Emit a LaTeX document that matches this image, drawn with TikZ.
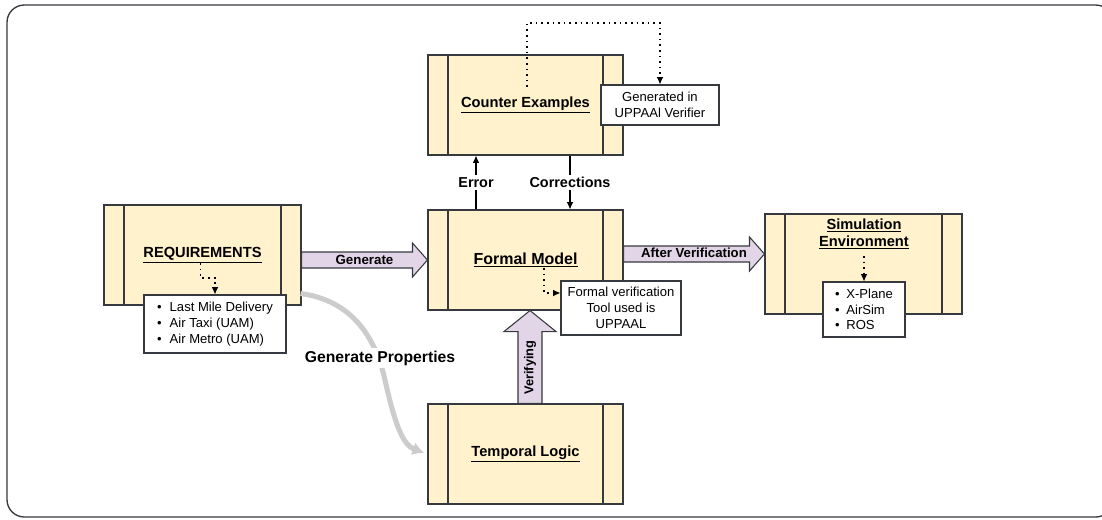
\documentclass[tikz,border=0pt]{standalone}
\usepackage{fontspec}
\setmainfont{Liberation Sans}
\usetikzlibrary{calc,arrows.meta}

\definecolor{boxfill}{HTML}{FFF2CC}
\definecolor{boxline}{HTML}{36393D}
\definecolor{arrowfill}{HTML}{E1D5E7}
\definecolor{propgray}{HTML}{CCCCCC}

\tikzset{
  procbox/.style={draw=boxline, fill=boxfill, line width=0.8pt,
    minimum width=146.25pt, minimum height=75pt, inner sep=0pt,
    font=\fontsize{11}{13}\selectfont\bfseries,
    path picture={
      \draw[boxline, line width=0.8pt]
        ([xshift=15pt]path picture bounding box.north west) -- ([xshift=15pt]path picture bounding box.south west)
        ([xshift=-15pt]path picture bounding box.north east) -- ([xshift=-15pt]path picture bounding box.south east);
    }},
  notebox/.style={draw=boxline, fill=white, line width=0.8pt, inner sep=0pt,
    font=\fontsize{9.8}{11.8}\selectfont},
  dotarrow/.style={line width=0.8pt, dash pattern=on 1.2pt off 3pt,
    -{Latex[length=5.5pt,width=5pt]}},
  thinarrow/.style={line width=0.8pt, -{Latex[length=5.5pt,width=5pt]}},
  fatarrow/.style={draw=boxline, fill=arrowfill, line width=0.8pt, line join=miter},
  edgelabel/.style={fill=white, inner sep=1.5pt, font=\fontsize{10.8}{13}\selectfont\bfseries}
}

% horizontal block arrow: start, end
\newcommand{\blockarrowh}[2]{%
  \filldraw[fatarrow] ($(#1)+(0,-8)$) -- ($(#2)+(-15,-8)$) -- ($(#2)+(-15,-17)$) -- (#2)
    -- ($(#2)+(-15,17)$) -- ($(#2)+(-15,8)$) -- ($(#1)+(0,8)$) -- cycle;}
% vertical block arrow (upwards): start, end
\newcommand{\blockarrowv}[2]{%
  \filldraw[fatarrow] ($(#1)+(-12,0)$) -- ($(#2)+(-12,21)$) -- ($(#2)+(-26,21)$) -- (#2)
    -- ($(#2)+(26,21)$) -- ($(#2)+(12,21)$) -- ($(#1)+(12,0)$) -- cycle;}

\begin{document}
\begin{tikzpicture}[x=0.75pt,y=0.75pt,yscale=-1,xscale=1]
\useasboundingbox (0,0) rectangle (1102,519);

% outer frame
\draw[draw=boxline, line width=1pt, rounded corners=13pt] (7,5) rectangle (1113,517);

% process boxes
\node[procbox] (ce) at (525.5,105) {\underline{Counter Examples}};
\node[procbox] (fm) at (525.5,260) {\fontsize{12}{14}\selectfont\underline{Formal Model}};
\node[procbox] (tl) at (525.5,454) {\underline{Temporal Logic}};
\node[procbox, minimum width=147.75pt] (req) at (202.5,255) {\underline{REQUIREMENTS}};
\node[procbox, minimum width=147.75pt] (sim) at (863.5,264) {};
\node[font=\fontsize{11}{12.8}\selectfont\bfseries, align=center] (simlabel) at (864,234)
  {\underline{Simulation}\\\underline{Environment}};

% Error / Corrections
\draw[thinarrow] ($(fm.north)+(-49.5,0)$) -- ($(ce.south)+(-49.5,0)$)
  node[midway, edgelabel] {Error};
\draw[thinarrow] ($(ce.south)+(44.5,0)$) -- ($(fm.north)+(44.5,0)$)
  node[midway, edgelabel] {Corrections};

% block arrows
\blockarrowh{req.east |- fm.west}{fm.west}
\node[font=\fontsize{10}{12}\selectfont\bfseries] (genlabel) at ($(req.east |- fm.west)!0.5!(fm.west)$) {Generate};
\coordinate (avstart) at ($(fm.east)+(0,-6)$);
\coordinate (avend) at (sim.west |- avstart);
\blockarrowh{avstart}{avend}
\node[font=\fontsize{9.9}{12}\selectfont\bfseries] (avlabel) at ($(avstart)!0.5!(avend)+(0,-1.5)$) {After Verification};
\coordinate (vfstart) at ($(tl.north)+(4.5,0)$);
\coordinate (vfend) at (vfstart |- fm.south);
\blockarrowv{vfstart}{vfend}
\node[rotate=90, font=\fontsize{9.6}{12}\selectfont\bfseries] (vflabel) at ($(vfstart)+(0,-36)$) {Verifying};

% generate properties
\draw[propgray, line width=3.8pt, -{Latex[length=9pt,width=10pt]}]
  ($(req.south east)+(-1,-12)$) .. controls (350,300) and (375,335) .. (385,380)
  .. controls (395,425) and (403,445) .. ($(tl.west)+(-3,-1)$);
\node[fill=white, inner sep=2pt, font=\fontsize{11.8}{14}\selectfont\bfseries] (gplabel) at (380,358) {Generate Properties};

% notes
\node[notebox, minimum width=88.5pt, minimum height=30pt, align=center] (gen) at (660,105)
  {Generated in\\UPPAAl Verifier};
\node[notebox, minimum width=90pt, minimum height=40.5pt, align=center] (fv) at (621,308)
  {Formal verification\\Tool used is\\UPPAAL};
\node[notebox, minimum width=106.5pt, minimum height=43.5pt, align=left] (rl) at (215,324)
  {\textbullet\hspace{6pt}Last Mile Delivery\\\textbullet\hspace{6pt}Air Taxi (UAM)\\\textbullet\hspace{6pt}Air Metro (UAM)};
\node[notebox, minimum width=61.5pt, minimum height=41.25pt, align=left] (sl) at (864,309.5)
  {\textbullet\hspace{5pt}X-Plane\\\textbullet\hspace{5pt}AirSim\\\textbullet\hspace{5pt}ROS};

% dotted links
\draw[dotarrow] ($(ce.center)+(1.5,-18)$) -- ++(0,-64) -| (gen.north);
\draw[dotarrow] ($(req.center)+(-2,8)$) -- ++(0,15) -| (rl.north);
\draw[dotarrow] ($(fm.center)+(18.5,8)$) |- ($(fv.west)+(0,-15)$);
\draw[dotarrow] ($(simlabel.south)+(0,2)$) -- (sl.north);
\end{tikzpicture}
\end{document}
